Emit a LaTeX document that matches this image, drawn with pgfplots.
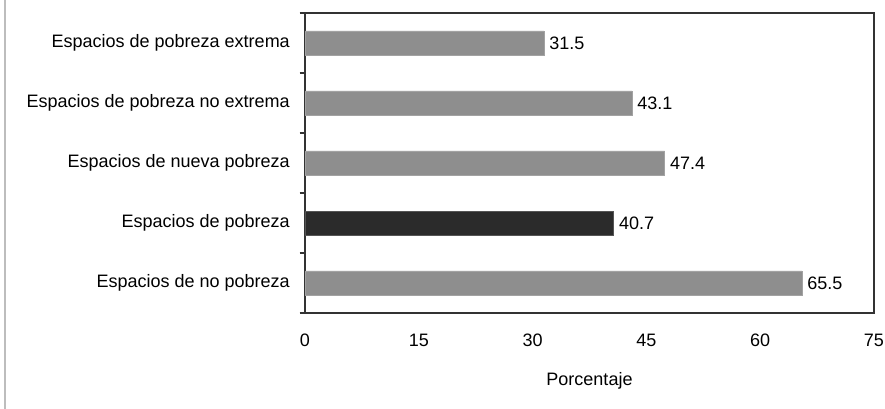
\documentclass[border=0pt]{standalone}
\usepackage{pgfplots}
\pgfplotsset{compat=1.18}
\usepackage{fontspec}
\setmainfont{Liberation Sans}

\definecolor{bargray}{HTML}{8E8E8E}
\definecolor{baredge}{HTML}{A2A2A2}
\definecolor{bardark}{HTML}{2B2B2B}
\definecolor{axisline}{HTML}{333333}
\definecolor{framegray}{HTML}{BDBDBD}

\newcommand{\chartfont}{\fontsize{18}{21.6}\selectfont}

\begin{document}
\begin{tikzpicture}
\path[use as bounding box] (0pt,0pt) rectangle (885pt,409pt);
\draw[framegray, line width=1.8pt] (4.6pt,0pt) -- (4.6pt,409pt);

\begin{axis}[
  at={(305pt,96pt)}, anchor=south west,
  scale only axis,
  width=569pt, height=300pt,
  xbar, bar width=24pt,
  xmin=0, xmax=75,
  ymin=-0.5, ymax=4.5,
  xtick={0,15,30,45,60,75},
  ytick={0,1,2,3,4},
  yticklabels={Espacios de no pobreza, Espacios de pobreza, Espacios de nueva pobreza, Espacios de pobreza no extrema, Espacios de pobreza extrema},
  minor ytick={-0.5,0.5,1.5,2.5,3.5,4.5},
  major tick length=0pt,
  minor tick length=5.5pt,
  tick align=outside,
  xtick pos=bottom, ytick pos=left,
  every tick/.style={axisline, line width=1.3pt},
  axis line style={axisline, line width=1.5pt},
  /pgf/number format/assume math mode=true,
  ticklabel style={font=\chartfont, text=black},
  yticklabel style={anchor=east, inner sep=0pt, xshift=-15pt},
  xticklabel style={anchor=center, inner sep=0pt, yshift=-27pt},
  xlabel={Porcentaje},
  xlabel style={font=\chartfont, at={(axis description cs:0.5,0)}, anchor=center, yshift=-68pt},
  nodes near coords,
  nodes near coords style={font=\chartfont, text=black, anchor=west, inner sep=0pt, xshift=5pt},
  point meta=explicit symbolic,
  clip=false,
]
\addplot[fill=bargray, draw=baredge, line width=0.8pt, bar shift=0pt]
  coordinates {(65.5,0) [65.5] (47.4,2) [47.4] (43.1,3) [43.1] (31.5,4) [31.5]};
\addplot[fill=bardark, draw=bardark!80, line width=0.8pt, bar shift=0pt]
  coordinates {(40.7,1) [40.7]};
\end{axis}
\end{tikzpicture}
\end{document}
